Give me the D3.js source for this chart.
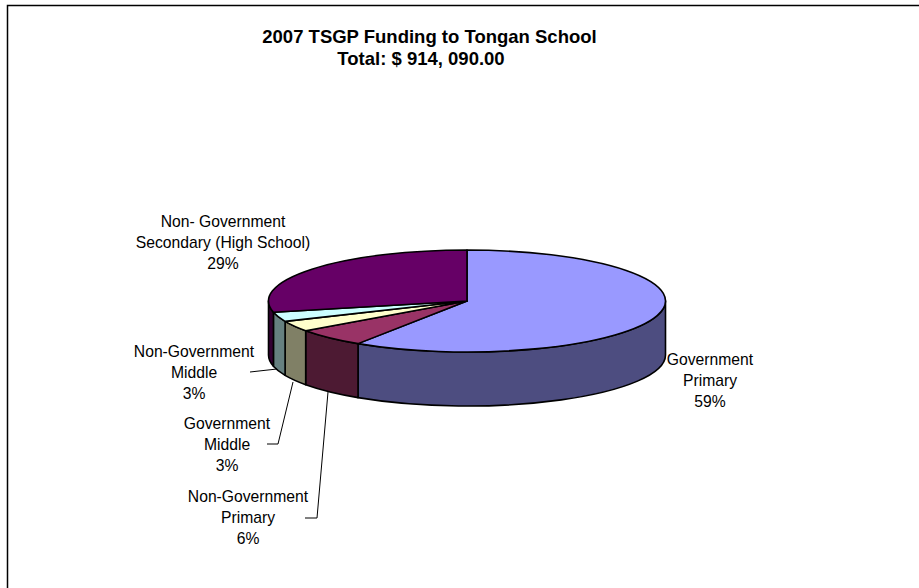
<!DOCTYPE html>
<html><head><meta charset="utf-8">
<script src="https://cdn.jsdelivr.net/npm/d3@7"></script>
<style>
html,body{margin:0;padding:0;background:#fff}
svg{display:block}
text{font-family:"Liberation Sans",Arial,sans-serif;fill:#000}
</style></head><body>
<svg id="c" width="919" height="588"></svg>
<script>
const titleLines = ["2007 TSGP Funding to Tongan School", "Total: $ 914, 090.00"];
const categories = ["Government Primary","Non-Government Primary","Government Middle","Non-Government Middle","Non- Government Secondary (High School)"];
const labelLines = [["Government","Primary"],["Non-Government","Primary"],["Government","Middle"],["Non-Government","Middle"],["Non- Government","Secondary (High School)"]];
const values = [59.25,5.85,3.35,3.0,28.55];
const topColors = ["#9999ff","#993366","#ffffcc","#ccffff","#660066"];
const sideColors = ["#4d4d80","#4d1a33","#808066","#668080","#330033"];

const svg = d3.select("#c");
const cx=467, cy=301, rx=198.5, ry=51, depth=54;

const titleX=[429.5,421], titleY=[43,65];
const labelAnchors = [[710,365],[248,502],[227,429],[194,357],[223,227]];
const leaders = [null,[[328,392],[317,518],[305,518]],[[293,382],[278,444],[267,444]],[[277,369],[250,372]],null];

svg.append("path").attr("d","M7.5,588V5.5H919").attr("fill","none").attr("stroke","#000").attr("stroke-width",1.5);

const title = svg.append("text").attr("text-anchor","middle").attr("font-size",18.5).attr("font-weight","bold");
titleLines.forEach((t,i)=>title.append("tspan").attr("x",titleX[i]).attr("y",titleY[i]).text(t));

const arcs = d3.pie().sort(null).value(d=>d)(values);
const px = a=>cx+rx*Math.sin(a), py=a=>cy-ry*Math.cos(a);

const g = svg.append("g").attr("stroke","#000").attr("stroke-width",1.6).attr("stroke-linejoin","round");
arcs.forEach((d,i)=>{
  const a0=Math.max(d.startAngle,Math.PI/2), a1=Math.min(d.endAngle,Math.PI*1.5);
  if(a1<=a0) return;
  const s=`M${px(a0)},${py(a0)}A${rx},${ry} 0 0 1 ${px(a1)},${py(a1)}L${px(a1)},${py(a1)+depth}A${rx},${ry} 0 0 0 ${px(a0)},${py(a0)+depth}Z`;
  g.append("path").attr("d",s).attr("fill",sideColors[i]);
});
arcs.forEach((d,i)=>{
  const large=(d.endAngle-d.startAngle)>Math.PI?1:0;
  const s=`M${cx},${cy}L${px(d.startAngle)},${py(d.startAngle)}A${rx},${ry} 0 ${large} 1 ${px(d.endAngle)},${py(d.endAngle)}Z`;
  g.append("path").attr("d",s).attr("fill",topColors[i]);
});

const lg = svg.append("g").attr("fill","none").attr("stroke","#000").attr("stroke-width",1);
leaders.forEach(l=>{ if(l) lg.append("path").attr("d",d3.line()(l)); });

const fmt=d3.format(".0f");
labelLines.forEach((lines,i)=>{
  const t=svg.append("text").attr("text-anchor","middle").attr("font-size",15.7);
  const all=[...lines,fmt(values[i])+"%"];
  all.forEach((s,j)=>t.append("tspan").attr("x",labelAnchors[i][0]).attr("y",labelAnchors[i][1]+j*21).text(s));
});
</script></body></html>
